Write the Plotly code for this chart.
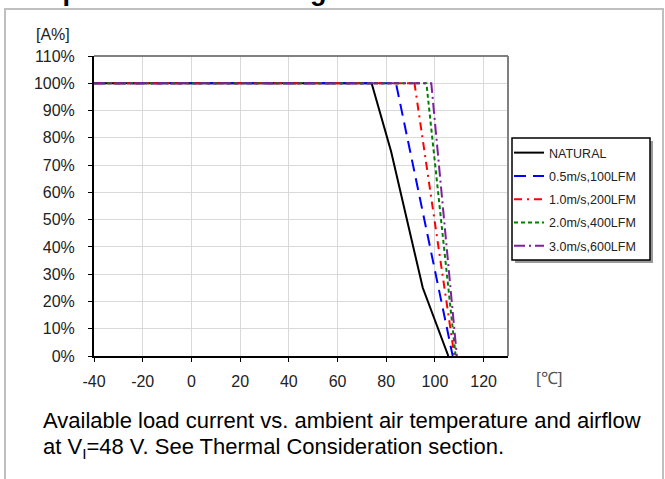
import plotly.graph_objects as go

# ---- data ----
series_names = ["NATURAL", "0.5m/s,100LFM", "1.0m/s,200LFM", "2.0m/s,400LFM", "3.0m/s,600LFM"]
temp_natural = [-40, 74, 82, 95, 105.5]
load_natural = [100, 100, 75, 25, 0]
temp_05 = [-40, 84, 107.3]
load_05 = [100, 100, 0]
temp_10 = [-40, 91.6, 108]
load_10 = [100, 100, 0]
temp_20 = [-40, 96.5, 108.5]
load_20 = [100, 100, 0]
temp_30 = [-40, 98.5, 109]
load_30 = [100, 100, 0]
x_ticks = [-40, -20, 0, 20, 40, 60, 80, 100, 120]
x_tick_labels = ["-40", "-20", "0", "20", "40", "60", "80", "100", "120"]
y_ticks = [0, 10, 20, 30, 40, 50, 60, 70, 80, 90, 100, 110]
y_tick_labels = ["0%", "10%", "20%", "30%", "40%", "50%", "60%", "70%", "80%", "90%", "100%", "110%"]

colors = ["#000000", "#0000ff", "#ff0000", "#008000", "#7f1f9f"]
dashes = ["solid", "12px,7px", "8px,5px,2px,5px", "4px,3px", "11px,4px,2px,4px"]
temps = [temp_natural, temp_05, temp_10, temp_20, temp_30]
loads = [load_natural, load_05, load_10, load_20, load_30]

W_FIG, H_FIG = 665, 479
L, R, T, B = 94, 157, 56, 123
PW = W_FIG - L - R
PH = H_FIG - T - B


def xp(px):
    return (px - L) / PW


def yp(py):
    return (H_FIG - B - py) / PH


FONT = "Arial, Liberation Sans, sans-serif"

fig = go.Figure()
for name, t, v, c, d in zip(series_names, temps, loads, colors, dashes):
    fig.add_trace(go.Scatter(
        x=t, y=v, mode="lines", name=name, legendgroup=name,
        line=dict(color=c, width=2, dash=d),
    ))

fig.update_layout(
    width=W_FIG, height=H_FIG,
    margin=dict(l=L, r=R, t=T, b=B, pad=0),
    paper_bgcolor="white", plot_bgcolor="white",
    font=dict(family=FONT, size=16, color="#222222"),
    showlegend=True,
    legend=dict(
        x=xp(509), y=yp(138), xanchor="left", yanchor="top",
        bgcolor="rgba(0,0,0,0)", borderwidth=0,
        font=dict(size=12.5, color="#222222"),
        tracegroupgap=4,
    ),
    xaxis=dict(
        range=[-40, 130], tickmode="array", tickvals=x_ticks, ticktext=x_tick_labels,
        showgrid=True, gridcolor="#d9d9d9", gridwidth=1,
        zeroline=False, showline=True, linecolor="#000000", linewidth=2,
        ticks="outside", ticklen=4, tickcolor="#000000",
        tickfont=dict(size=16, color="#222222"),
        ticklabelstandoff=6,
    ),
    yaxis=dict(
        range=[0, 110], tickmode="array", tickvals=y_ticks, ticktext=y_tick_labels,
        showgrid=True, gridcolor="#d9d9d9", gridwidth=1,
        zeroline=False, showline=True, linecolor="#000000", linewidth=2,
        ticks="outside", ticklen=4, tickcolor="#000000",
        tickfont=dict(size=16, color="#222222"),
        ticklabelstandoff=10,
    ),
)

shapes = [
    # outer grey frame (table cell)
    dict(type="rect", xref="paper", yref="paper", x0=xp(5), x1=xp(663), y0=yp(520), y1=yp(9),
         line=dict(color="#bfbfbf", width=2), fillcolor="rgba(0,0,0,0)", layer="below"),
    # plot top/right border
    dict(type="line", xref="paper", yref="paper", x0=0, x1=1, y0=1, y1=1,
         line=dict(color="#808080", width=2)),
    dict(type="line", xref="paper", yref="paper", x0=1, x1=1, y0=0, y1=1,
         line=dict(color="#808080", width=2)),
    # legend shadow and box
    dict(type="rect", xref="paper", yref="paper", x0=xp(515), x1=xp(653), y0=yp(263), y1=yp(141),
         line=dict(width=0), fillcolor="#9a9a9a"),
    dict(type="rect", xref="paper", yref="paper", x0=xp(512), x1=xp(650), y0=yp(260), y1=yp(138),
         line=dict(color="#000000", width=1.5), fillcolor="white"),
]
fig.update_layout(shapes=shapes)

annotations = [
    dict(text="<b>Output Current Derating</b>", xref="paper", yref="paper",
         x=xp(14), y=yp(8), xanchor="left", yanchor="bottom", showarrow=False,
         font=dict(size=27, color="#000000", family=FONT)),
    dict(text="[A%]", xref="paper", yref="paper", x=xp(72), y=yp(34),
         xanchor="right", yanchor="middle", showarrow=False,
         font=dict(size=16, color="#222222", family=FONT)),
    dict(text="[℃]", xref="paper", yref="paper", x=xp(549), y=yp(378),
         xanchor="center", yanchor="middle", showarrow=False,
         font=dict(size=17, color="#555555", family=FONT)),
    dict(text="Available load current vs. ambient air temperature and airflow",
         xref="paper", yref="paper", x=xp(41), y=yp(420), xanchor="left", yanchor="middle",
         showarrow=False, font=dict(size=22, color="#000000", family=FONT)),
    dict(text="at V<sub>I</sub>=48 V. See Thermal Consideration section.",
         xref="paper", yref="paper", x=xp(41), y=yp(448), xanchor="left", yanchor="middle",
         showarrow=False, font=dict(size=22, color="#000000", family=FONT)),
]
fig.update_layout(annotations=annotations)

fig.write_html("out.html", config={"displayModeBar": False},
               post_script="document.body.style.margin='0';")
